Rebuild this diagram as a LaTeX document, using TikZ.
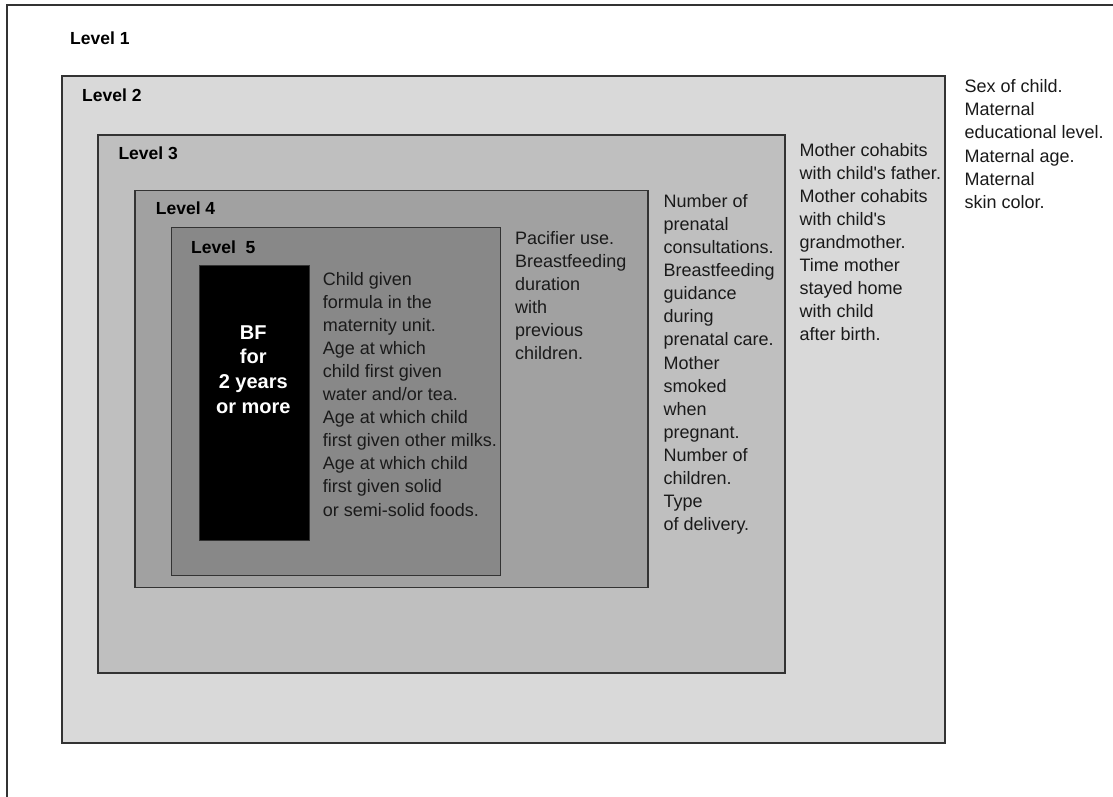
\documentclass[tikz,border=0pt]{standalone}
\usepackage{fontspec}
\setmainfont{Liberation Sans}
\definecolor{edge}{HTML}{333333}
\definecolor{txt}{HTML}{1A1A1A}
\definecolor{lvtwo}{HTML}{D9D9D9}
\definecolor{lvthree}{HTML}{BFBFBF}
\definecolor{lvfour}{HTML}{A1A1A1}
\definecolor{lvfive}{HTML}{888888}
\begin{document}
\begin{tikzpicture}[x=1pt,y=-1pt,
  lvbox/.style={draw=edge, line width=1.3pt, anchor=north west, inner sep=0pt, outer sep=0pt},
  lvlabel/.style={anchor=base west, inner sep=0pt, text=black, font=\fontsize{17.5}{21}\selectfont\bfseries},
  factors/.style={anchor=base west, inner sep=0pt, align=left, text=txt, font=\fontsize{18}{23.1}\selectfont},
  bftext/.style={anchor=base, inner sep=0pt, align=center, text=white, font=\fontsize{20}{24.8}\selectfont\bfseries}]
\useasboundingbox (0,0) rectangle (1113,797);
\fill[white] (0,0) rectangle (1113,797);
% Level 1 frame (only left and top edges visible)
\coordinate (L1bl) at (7,797);
\coordinate (L1tl) at (7,5);
\coordinate (L1tr) at (1113,5);
\draw[edge, line width=1.3pt] (L1bl) -- (L1tl) -- (L1tr);
% nested levels
\node[lvbox, fill=lvtwo, minimum width=883pt, minimum height=667pt] (L2) at (62,76) {};
\node[lvbox, fill=lvthree, minimum width=687pt, minimum height=538pt] (L3) at (98,135) {};
\node[lvbox, fill=lvfour, minimum width=513pt, minimum height=397pt] (L4) at (135,190.5) {};
\node[lvbox, fill=lvfive, minimum width=329pt, minimum height=348pt] (L5) at (171.5,227.5) {};
\node[anchor=north west, fill=black, draw=edge, line width=0.6pt, inner sep=0pt, minimum width=110pt, minimum height=275pt] (BF) at (198.5,264.5) {};
% level labels
\node[lvlabel] (t1) at (70,44.3) {Level 1};
\node[lvlabel] (t2) at (82,101.7) {Level 2};
\node[lvlabel] (t3) at (118.3,159) {Level 3};
\node[lvlabel] (t4) at (155.7,214) {Level 4};
\node[lvlabel] (t5) at (191,253.3) {Level\ \ 5};
% BF text (anchored at the baseline of its last line)
\node[bftext] (bf) at (253.3,413.4) {BF\\for\\2 years\\or more};
% factor lists (anchored at the baseline of their last line)
\node[factors] (f5) at (322.7,516) {Child given\\formula in the\\maternity unit.\\Age at which\\child first given\\water and/or tea.\\Age at which child\\first given other milks.\\Age at which child\\first given solid\\or semi-solid foods.};
\node[factors] (f4) at (515,359.5) {Pacifier use.\\Breastfeeding\\duration\\with\\previous\\children.};
\node[factors] (f3) at (663.3,530.7) {Number of\\prenatal\\consultations.\\Breastfeeding\\guidance\\during\\prenatal care.\\Mother\\smoked\\when\\pregnant.\\Number of\\children.\\Type\\of delivery.};
\node[factors] (f2) at (799.3,340.8) {Mother cohabits\\with child\textquotesingle s father.\\Mother cohabits\\with child\textquotesingle s\\grandmother.\\Time mother\\stayed home\\with child\\after birth.};
\node[factors] (f1) at (964.3,208.2) {Sex of child.\\Maternal\\educational level.\\Maternal age.\\Maternal\\skin color.};
\end{tikzpicture}
\end{document}
